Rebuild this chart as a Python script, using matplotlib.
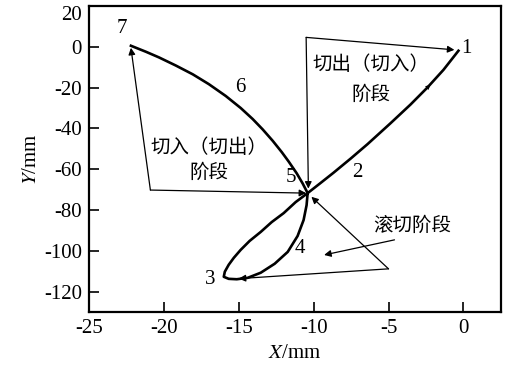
import matplotlib
matplotlib.use('Agg')
import matplotlib.pyplot as plt

plt.rcParams['font.family'] = ['Liberation Serif', 'Noto Sans CJK SC']
plt.rcParams['mathtext.fontset'] = 'stix'
plt.rcParams['axes.unicode_minus'] = False

# trajectory, from point 1 round to point 7
curve_x = [-0.33, -1.33, -2.4, -3.53, -4.87, -6.4, -7.53, -8.67, -9.53, -10.4,
           -11.2, -12.0, -12.8, -13.53, -14.27, -14.87, -15.33, -15.67, -15.93, -16.0,
           -15.67, -15.13, -14.4, -13.53, -12.6, -11.73, -11.07, -10.67, -10.47, -10.4,
           -10.73, -11.13, -11.67, -12.13, -12.73, -13.4, -14.07, -14.87, -15.87,
           -17.0, -18.07, -19.2, -20.33, -21.2, -22.2]
curve_y = [-1.95, -11.3, -19.95, -28.3, -37.5, -47.7, -54.8, -61.7, -66.7, -71.7,
           -76.1, -81.5, -85.9, -90.7, -95.1, -99.5, -103.4, -106.8, -110.2, -112.7,
           -113.7, -113.9, -113.2, -110.7, -106.3, -100.5, -92.7, -84.9, -77.6, -71.7,
           -67.0, -62.0, -56.2, -51.6, -46.1, -40.5, -35.4, -30.0, -24.1,
           -18.3, -13.5, -9.2, -5.2, -2.44, 0.5]

# thin arrows: (start, end)
arrow_starts = [(-10.5, 4.6), (-10.5, 4.6), (-20.9, -70.2), (-20.9, -70.2),
                (-5.0, -108.8), (-5.0, -108.8), (-4.6, -94.6)]
arrow_ends = [(-0.6, -1.5), (-10.35, -69.5), (-22.2, -0.5), (-10.5, -71.7),
              (-10.15, -73.5), (-15.0, -113.6), (-9.3, -102)]

point_labels = ['1', '2', '3', '4', '5', '6', '7']
point_pos = [(0.2, -1), (-7.1, -61.5), (-16.9, -114), (-10.9, -99),
             (-11.5, -64), (-14.9, -20), (-22.8, 9)]

stage_labels = ['切出（切入）\n阶段', '切入（切出）\n阶段', '滚切阶段']
stage_pos = [(-6.2, -16), (-17.0, -55.5), (-3.4, -87.5)]
stage_spacing = [1.5, 1.25, 1.25]

fig = plt.figure(figsize=(5.1, 3.72), dpi=100)
ax = fig.add_axes([0.1745, 0.161, 0.8075, 0.823])

ax.plot(curve_x, curve_y, color='k', lw=1.9, solid_joinstyle='round')
# small arrowhead on branch 1-2
ax.annotate('', xy=(-2.2, -18.6), xytext=(-2.6, -21.3),
            arrowprops=dict(arrowstyle='-|>', color='k', lw=0, mutation_scale=9,
                            shrinkA=0, shrinkB=0))

for s, e in zip(arrow_starts, arrow_ends):
    ax.annotate('', xy=e, xytext=s,
                arrowprops=dict(arrowstyle='-|>', color='k', lw=0.9,
                                mutation_scale=10, shrinkA=0, shrinkB=0))

for lab, (x, y) in zip(point_labels, point_pos):
    ax.text(x, y, lab, fontsize=15, ha='center', va='center')

for lab, (x, y), ls in zip(stage_labels, stage_pos, stage_spacing):
    ax.text(x, y, lab, fontsize=14, ha='center', va='center',
            family=['Noto Sans CJK SC'], linespacing=ls)

ax.set_xlim(-25, 2.5)
ax.set_ylim(-130, 20)
ax.set_xticks(range(-25, 1, 5))
ax.set_yticks(range(-120, 21, 20))
ax.tick_params(direction='in', length=7, width=1.2, labelsize=15, pad=5,
               top=False, right=False)
for sp in ax.spines.values():
    sp.set_linewidth(1.6)

ax.set_xlabel('$X$/mm', fontsize=15, labelpad=4)
ax.set_ylabel('$Y$/mm', fontsize=15, labelpad=2)

fig.canvas.draw()
ax.get_yticklabels()[-1].set_verticalalignment('top')

fig.savefig('out.png', dpi=100)
